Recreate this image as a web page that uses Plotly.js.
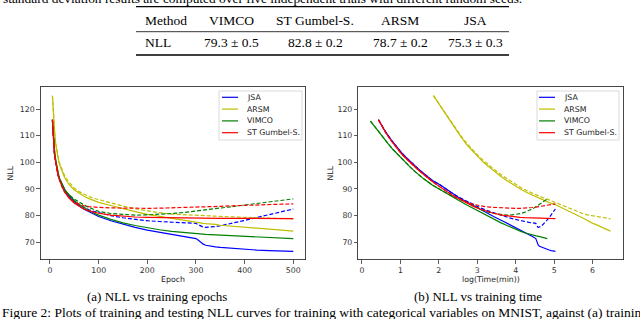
<!DOCTYPE html>
<html><head><meta charset="utf-8">
<script src="https://cdn.plot.ly/plotly-3.0.1.min.js"></script>
<style>html,body{margin:0;padding:0;background:#fff;}#chart{width:640px;height:319px;}</style>
</head><body><div id="chart"></div>
<script>
// ---------------- data ----------------
const epochs = [5,6,7,8,9,10,12,14,16,18,20,25,30,35,40,50,60,70,80,90,100,125,150,175,200,225,250,275,300,305,310,315,320,330,340,350,375,400,425,450,475,500];

const methods = ['JSA','ARSM','VIMCO','ST Gumbel-S.'];
const colors = ['#0000ff','#bfbf00','#008000','#ff0000'];
// minutes per training epoch
const minutesPerEpoch = [0.307, 1.284, 0.249, 0.307];

const jsaTrain = [116,111.5,108.3,105.8,103.8,102.2,99.6,97.6,96,94.6,93.4,91.5,89.6,88.1,86.9,85.1,83.6,82.4,81.4,80.5,79.7,78.1,76.8,75.6,74.6,73.8,73.0,72.2,71.4,70.8,69.9,69.3,68.9,68.5,68.3,68.1,67.7,67.4,67.1,66.9,66.7,66.6];
const jsaTest  = [116,111.5,108.3,105.8,103.8,102.2,99.6,97.6,96,94.6,93.4,91.5,89.6,88.1,87.0,85.3,84.0,83.0,82.2,81.6,81.1,80.0,79.2,78.6,78.1,77.8,77.5,77.3,77.1,76.6,76.0,75.7,75.6,75.7,75.9,76.2,77.1,78.2,79.3,80.4,81.5,82.5];

const arsmTrain = [125,121,117.5,114.5,112,110,106.5,104,102,100.3,99,96.3,94.3,92.8,91.5,89.6,88.3,87.3,86.4,85.6,85,83.8,82.6,81.5,80.5,79.7,78.9,78.1,77.4,77.3,77.2,77.1,77.0,76.9,76.7,76.4,76.0,75.6,75.2,74.8,74.5,74.2];
const arsmTest  = [125,121.2,117.8,114.8,112.4,110.4,107,104.5,102.5,100.9,99.6,97,95,93.5,92.3,90.3,89,88,87.2,86.5,86,84.7,83.6,82.6,81.8,81.1,80.6,80.3,80.1,80.05,80.0,80.0,79.95,79.9,79.8,79.7,79.5,79.3,79.2,79.0,78.9,78.8];

const vimcoTrain = [115.5,112,109.2,106.8,104.8,103.2,100.5,98.3,96.5,95,93.8,91.5,89.9,88.6,87.5,85.7,84.2,83.0,81.9,81.0,80.2,78.6,77.3,76.3,75.4,74.7,74.1,73.6,73.2,73.1,73.05,73.0,72.95,72.85,72.75,72.65,72.4,72.2,72.0,71.8,71.6,71.4];
const vimcoTest  = [115.5,112,109.2,106.8,104.8,103.2,100.5,98.3,96.5,95,93.8,91.5,89.9,88.7,87.7,86.2,85.0,84.0,83.1,82.3,81.6,80.8,80.4,80.2,80.3,80.5,80.8,81.2,81.7,81.8,81.9,82.0,82.1,82.3,82.5,82.8,83.4,84.0,84.6,85.2,85.8,86.3];

const stTrain = [116,111.3,108,105.4,103.4,101.8,99.2,97.2,95.6,94.2,93.0,90.7,88.9,87.5,86.4,84.6,83.4,82.5,81.8,81.3,80.9,80.2,79.8,79.5,79.35,79.25,79.2,79.15,79.1,79.1,79.1,79.1,79.1,79.05,79.05,79.0,79.0,79.0,78.95,78.95,78.9,78.9];
const stTest  = [116,111.3,108,105.4,103.4,101.8,99.2,97.2,95.6,94.2,93.0,90.7,88.9,87.5,86.6,85.0,84.2,83.7,83.4,83.2,83.1,82.9,82.8,82.75,82.75,82.8,82.9,83.05,83.2,83.25,83.3,83.3,83.35,83.4,83.45,83.5,83.7,83.9,84.05,84.2,84.3,84.4];

const trainSeries = [jsaTrain, arsmTrain, vimcoTrain, stTrain];
const testSeries  = [jsaTest, arsmTest, vimcoTest, stTest];

const epochTicks = [0,100,200,300,400,500];
const timeTicks = [0,1,2,3,4,5,6];
const nllTicks = [70,80,90,100,110,120];

const tableHeader = ['Method','VIMCO','ST Gumbel-S.','ARSM','JSA'];
const tableRow = ['NLL','79.3 ± 0.5','82.8 ± 0.2','78.7 ± 0.2','75.3 ± 0.3'];
const topText = 'standard deviation results are computed over five independent trials with different random seeds.';
const captionA = '(a) NLL vs training epochs';
const captionB = '(b) NLL vs training time';
const figCaption = 'Figure 2: Plots of training and testing NLL curves for training with categorical variables on MNIST, against (a) training';

// ---------------- layout helpers ----------------
const W = 640, H = 319;
const px = v => v / W;
const py = v => 1 - v / H;
const tickFont = {family: 'DejaVu Sans', size: 7.8, color: '#333'};
const serif = 'Liberation Serif';

const traces = [];
methods.forEach((m, i) => {
  const logT = epochs.map(e => Math.log(e * minutesPerEpoch[i]));
  const base = {mode: 'lines', showlegend: false, hoverinfo: 'skip'};
  traces.push(Object.assign({}, base, {x: epochs, y: trainSeries[i], xaxis: 'x', yaxis: 'y', line: {color: colors[i], width: 1.2}}));
  traces.push(Object.assign({}, base, {x: epochs, y: testSeries[i], xaxis: 'x', yaxis: 'y', line: {color: colors[i], width: 1.2, dash: '4px,2px'}}));
  traces.push(Object.assign({}, base, {x: logT, y: trainSeries[i], xaxis: 'x2', yaxis: 'y2', line: {color: colors[i], width: 1.2}}));
  traces.push(Object.assign({}, base, {x: logT, y: testSeries[i], xaxis: 'x2', yaxis: 'y2', line: {color: colors[i], width: 1.2, dash: '4px,2px'}}));
});

function axisBase(extra) {
  return Object.assign({
    showline: true, mirror: true, linecolor: '#333', linewidth: 0.9,
    ticks: 'outside', ticklen: 3.5, tickwidth: 0.8, tickcolor: '#333',
    showgrid: false, zeroline: false, tickfont: tickFont, fixedrange: true
  }, extra);
}

const yDom = [1 - 259.5 / H, 1 - 87.3 / H];
const layout = {
  width: W, height: H,
  margin: {l: 0, r: 0, t: 0, b: 0},
  paper_bgcolor: '#fff', plot_bgcolor: '#fff',
  showlegend: false,
  xaxis: axisBase({domain: [px(40.7), px(305.3)], range: [-19.1, 524.7], tickvals: epochTicks, anchor: 'y'}),
  yaxis: axisBase({domain: yDom, range: [63.55, 128.15], tickvals: nllTicks, anchor: 'x'}),
  xaxis2: axisBase({domain: [px(358.3), px(623.3)], range: [-0.096, 6.80], tickvals: timeTicks, anchor: 'y2'}),
  yaxis2: axisBase({domain: yDom, range: [63.55, 128.15], tickvals: nllTicks, anchor: 'x2'}),
  shapes: [], annotations: []
};

function text(t, x, y, opts) {
  layout.annotations.push(Object.assign({
    text: t, x: px(x), y: py(y), xref: 'paper', yref: 'paper',
    showarrow: false, xanchor: 'center', yanchor: 'middle',
    font: {family: 'DejaVu Sans', size: 7.8, color: '#222'}
  }, opts || {}));
}
function hline(x0, x1, y, w, c) {
  layout.shapes.push({type: 'line', xref: 'paper', yref: 'paper', x0: px(x0), x1: px(x1), y0: py(y), y1: py(y), line: {color: c || '#000', width: w}});
}

// axis titles
text('Epoch', 173, 279.5);
text('log(Time(min))', 491, 279.5);
text('NLL', 10, 173.5, {textangle: -90});
text('NLL', 330, 173.5, {textangle: -90});

// legends (one per panel)
[[219, 302, 222, 238, 245], [537, 619, 539, 555, 562]].forEach(g => {
  layout.shapes.push({type: 'rect', xref: 'paper', yref: 'paper', x0: px(g[0]), x1: px(g[1]), y0: py(140), y1: py(91),
    line: {color: '#d0d0d0', width: 0.8}, fillcolor: 'rgba(255,255,255,0.85)', layer: 'above'});
  methods.forEach((m, i) => {
    const yy = 97.3 + i * 11.8;
    hline(g[2], g[3], yy, 1.2, colors[i]);
    text(m, g[4], yy, {xanchor: 'left'});
  });
});

// table above the figure
const colX = [143, 231, 315, 400, 475];
hline(136, 509, 6.7, 1.3);
hline(136, 509, 31.7, 0.8);
hline(136, 509, 55, 1.3);
tableHeader.forEach((t, i) => text(t, colX[i], 20.5, {xanchor: i === 0 ? 'left' : 'center', font: {family: serif, size: 13.5, color: '#000'}}));
tableRow.forEach((t, i) => text(t, colX[i], 42.5, {xanchor: i === 0 ? 'left' : 'center', font: {family: serif, size: 13.5, color: '#000'}}));
text(topText, 1, -1.5, {xanchor: 'left', font: {family: serif, size: 13.4, color: '#000'}});

// captions
text(captionA, 156.5, 296, {font: {family: serif, size: 13, color: '#000'}});
text(captionB, 477.5, 296, {font: {family: serif, size: 13, color: '#000'}});
text(figCaption, 0, 312.5, {xanchor: 'left', font: {family: serif, size: 13.5, color: '#000'}});

Plotly.newPlot('chart', traces, layout, {staticPlot: true, displayModeBar: false});
</script>
</body></html>
